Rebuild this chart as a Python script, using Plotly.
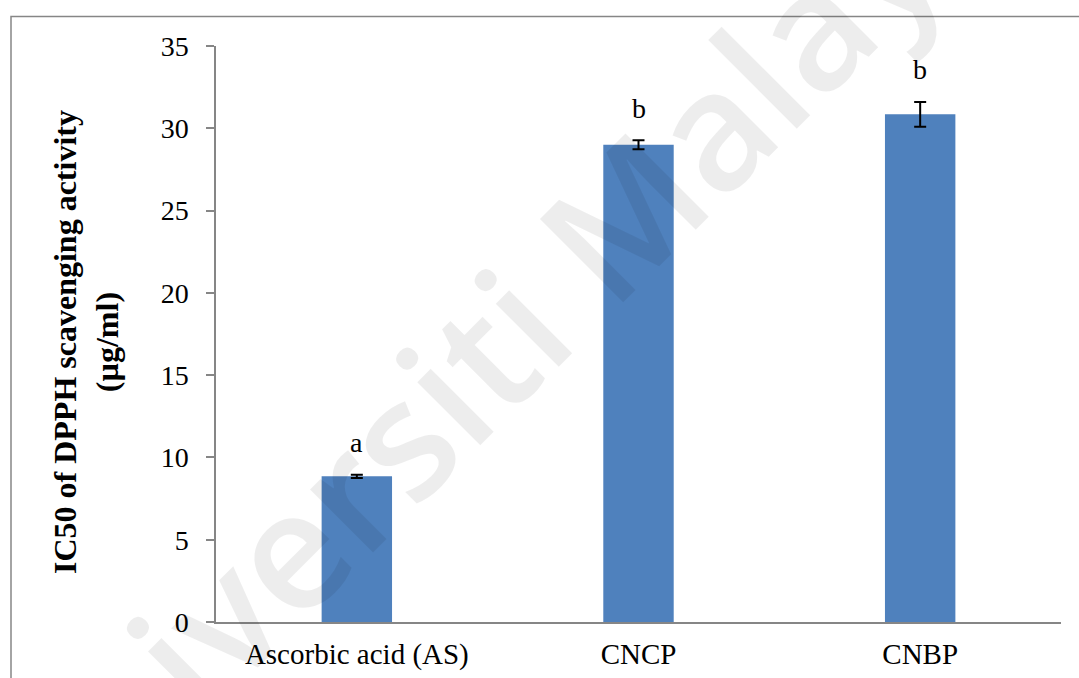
import plotly.graph_objects as go

# IC50 values of DPPH radical scavenging (µg/ml) with standard deviations
categories = ["Ascorbic acid (AS)", "CNCP", "CNBP"]
ic50_values = [8.85, 29.0, 30.85]
ic50_errors = [0.1, 0.28, 0.75]
group_letters = ["a", "b", "b"]

y_ticks = [0, 5, 10, 15, 20, 25, 30, 35]

SERIF = "Liberation Serif, Times New Roman, serif"
AXIS_GREY = "#868686"
BAR_BLUE = "#4F81BD"

W, H = 1079, 678
M_L, M_R, M_T, M_B = 216, 18, 46, 56
plot_w = W - M_L - M_R
plot_h = H - M_T - M_B


def px_to_paper_x(px):
    return (px - M_L) / plot_w


def px_to_paper_y(py):
    return (H - M_B - py) / plot_h


fig = go.Figure()

fig.add_trace(
    go.Bar(
        x=categories,
        y=ic50_values,
        marker=dict(color=BAR_BLUE, line=dict(width=0)),
        error_y=dict(
            type="data",
            array=ic50_errors,
            visible=True,
            color="black",
            thickness=2,
            width=6,
        ),
        hoverinfo="x+y",
        showlegend=False,
    )
)

# significance letters above each error bar
annotations = []
for cat, val, err, letter in zip(categories, ic50_values, ic50_errors, group_letters):
    annotations.append(
        dict(
            x=cat,
            y=val + err,
            xref="x",
            yref="y",
            text=letter,
            showarrow=False,
            yanchor="middle",
            yshift=32,
            font=dict(family=SERIF, size=28, color="black"),
        )
    )

# y-axis title (two lines, bold)
annotations.append(
    dict(
        x=px_to_paper_x(86),
        y=px_to_paper_y(342),
        xref="paper",
        yref="paper",
        text="<b>IC50 of DPPH scavenging activity</b><br><b>(µg/ml)</b>",
        textangle=-90,
        showarrow=False,
        xanchor="center",
        yanchor="middle",
        font=dict(family=SERIF, size=32, color="black"),
    )
)

# repository watermark
annotations.append(
    dict(
        x=px_to_paper_x(484),
        y=px_to_paper_y(351),
        xref="paper",
        yref="paper",
        text="Universiti Malaya",
        textangle=-45,
        showarrow=False,
        xanchor="center",
        yanchor="middle",
        font=dict(
            family="Open Sans, sans-serif",
            size=165,
            weight=600,
            color="rgba(0,0,0,0.07)",
        ),
    )
)

# outer frame of the chart area
shapes = [
    dict(
        type="rect",
        xref="paper",
        yref="paper",
        x0=px_to_paper_x(11),
        x1=px_to_paper_x(W + 10),
        y0=px_to_paper_y(H + 10),
        y1=px_to_paper_y(16.5),
        line=dict(color=AXIS_GREY, width=1.5),
        fillcolor="rgba(0,0,0,0)",
        layer="above",
    )
]

fig.update_layout(
    width=W,
    height=H,
    margin=dict(l=M_L, r=M_R, t=M_T, b=M_B, pad=0, autoexpand=False),
    paper_bgcolor="white",
    plot_bgcolor="white",
    bargap=0.75,
    annotations=annotations,
    shapes=shapes,
    xaxis=dict(
        type="category",
        range=[-0.5, 2.5],
        automargin=False,
        showline=True,
        linecolor=AXIS_GREY,
        linewidth=1.5,
        ticks="",
        showgrid=False,
        zeroline=False,
        tickfont=dict(family=SERIF, size=29, color="black"),
        ticklabelstandoff=5,
    ),
    yaxis=dict(
        range=[0, 35],
        tickvals=y_ticks,
        automargin=False,
        showline=True,
        linecolor=AXIS_GREY,
        linewidth=1.5,
        ticks="outside",
        ticklen=8,
        tickwidth=1.5,
        tickcolor=AXIS_GREY,
        showgrid=False,
        zeroline=False,
        tickfont=dict(family=SERIF, size=28, color="black"),
        ticklabelstandoff=12,
    ),
)

fig.write_html("out.html")
